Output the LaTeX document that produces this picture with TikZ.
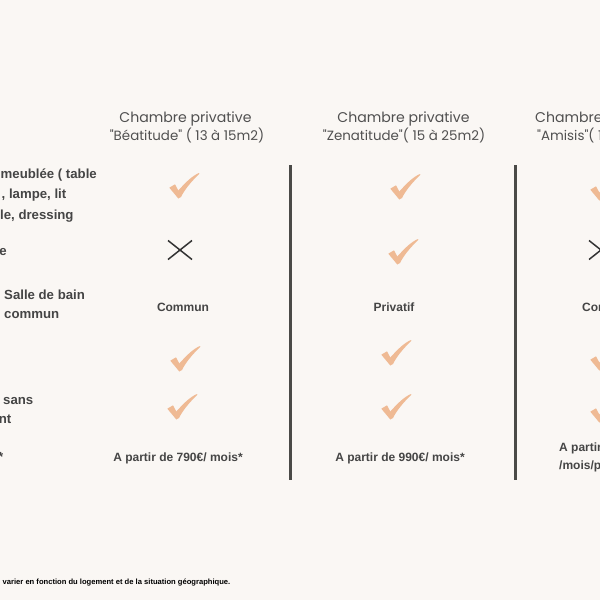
\documentclass[tikz,border=0pt]{standalone}
\usepackage{fontspec}
\setmainfont{Liberation Sans}
\newfontfamily\hdrfont{Poppins}
\definecolor{bgc}{HTML}{FAF7F4}
\definecolor{hdrc}{HTML}{505050}
\definecolor{txtc}{HTML}{454545}
\definecolor{chkc}{HTML}{EFBA94}
\definecolor{crossc}{HTML}{333333}
\definecolor{rulec}{HTML}{4A4A47}
\tikzset{
  hdr/.style={font=\hdrfont\fontsize{14.1}{17}\selectfont, text=hdrc, inner sep=0, anchor=base},
  hdrb/.style={hdr, font=\hdrfont\fontsize{13.4}{16}\selectfont},
  lbl/.style={font=\bfseries\fontsize{13.2}{15}\selectfont, text=txtc, inner sep=0, anchor=base west},
  cell/.style={font=\bfseries\fontsize{12}{14}\selectfont, text=txtc, inner sep=0, anchor=base},
  note/.style={font=\bfseries\fontsize{7.6}{9}\selectfont, text=black, inner sep=0, anchor=base west},
  rulel/.style={draw=rulec, line width=3pt},
  chk/.pic={\fill[chkc] (-14.7,1.7) -- (-9,-1.7) .. controls (-7.5,1) .. (-5.7,4.5)
      .. controls (2,-4) and (8,-10) .. (15,-13) -- (15.3,-12.3)
      .. controls (7,-4) and (1,3) .. (-3,11) -- (-5.7,12.5) -- cycle;},
  crs/.pic={\draw[crossc, line width=1.5pt] (-12,-9.5) -- (12,9.5) (-12,9.5) -- (12,-9.5);}
}
\begin{document}
\begin{tikzpicture}[x=1pt,y=-1pt]
\useasboundingbox (0,0) rectangle (600,600);
\clip (0,0) rectangle (600,600);
\fill[bgc] (0,0) rectangle (600,600);

% headers
\node[hdr] (h1a) at (185.5,122) {Chambre privative};
\node[hdrb] (h1b) at (187,140) {"Béatitude" ( 13 à 15m2)};
\node[hdr] (h2a) at (403.5,122) {Chambre privative};
\node[hdrb] (h2b) at (404,140) {"Zenatitude"( 15 à 25m2)};
\node[hdr, anchor=base west] (h3a) at (535,122) {Chambre privative};
\node[hdrb, anchor=base west] (h3b) at (537,140) {"Amisis"( 12 à 15m2)};

% left labels (cropped)
\node[lbl] (l1a) at (0.5,178) {meublée ( table};
\node[lbl] (l1b) at (1.5,198.5) {, lampe, lit};
\node[lbl] (l1c) at (0,219) {le, dressing};
\node[lbl, anchor=base east] (l2) at (7,255) {e};
\node[lbl] (l3a) at (4,299.5) {Salle de bain};
\node[lbl] (l3b) at (4,318.5) {commun};
\node[lbl] (l5a) at (3,404.5) {sans};
\node[lbl, anchor=base east] (l5b) at (11.5,423.5) {nt};
\node[lbl, anchor=base east] (l6) at (3.5,461) {*};

% dividers
\coordinate (d1t) at (290,165);
\coordinate (d1b) at (290,480);
\coordinate (d2t) at (515,165);
\coordinate (d2b) at (515,480);
\draw[rulel] (d1t) -- (d1b);
\draw[rulel] (d2t) -- (d2b);

% column 1
\pic at (184,186) {chk};
\pic at (180,250) {crs};
\node[cell] (c1r3) at (183,311) {Commun};
\pic at (185,359) {chk};
\pic at (182,407) {chk};
\node[cell] (c1r6) at (178,461) {A partir de 790€/ mois*};

% column 2
\pic at (405,187) {chk};
\pic at (403,252) {chk};
\node[cell] (c2r3) at (394,311) {Privatif};
\pic at (396,353) {chk};
\pic at (396,407) {chk};
\node[cell] (c2r6) at (400,461) {A partir de 990€/ mois*};

% column 3 (cropped)
\pic at (605,188) {chk};
\pic at (601,250) {crs};
\node[cell, anchor=base west] (c3r3) at (582,311) {Commun};
\pic at (605,358) {chk};
\pic at (605,410) {chk};
\node[cell, anchor=base west] (c3r6a) at (559,451.5) {A partir de 590€};
\node[cell, anchor=base west] (c3r6b) at (559,469) {/mois/personne*};

% footnote
\node[note] (fn) at (2.5,584.5) {varier en fonction du logement et de la situation géographique.};
\end{tikzpicture}
\end{document}
